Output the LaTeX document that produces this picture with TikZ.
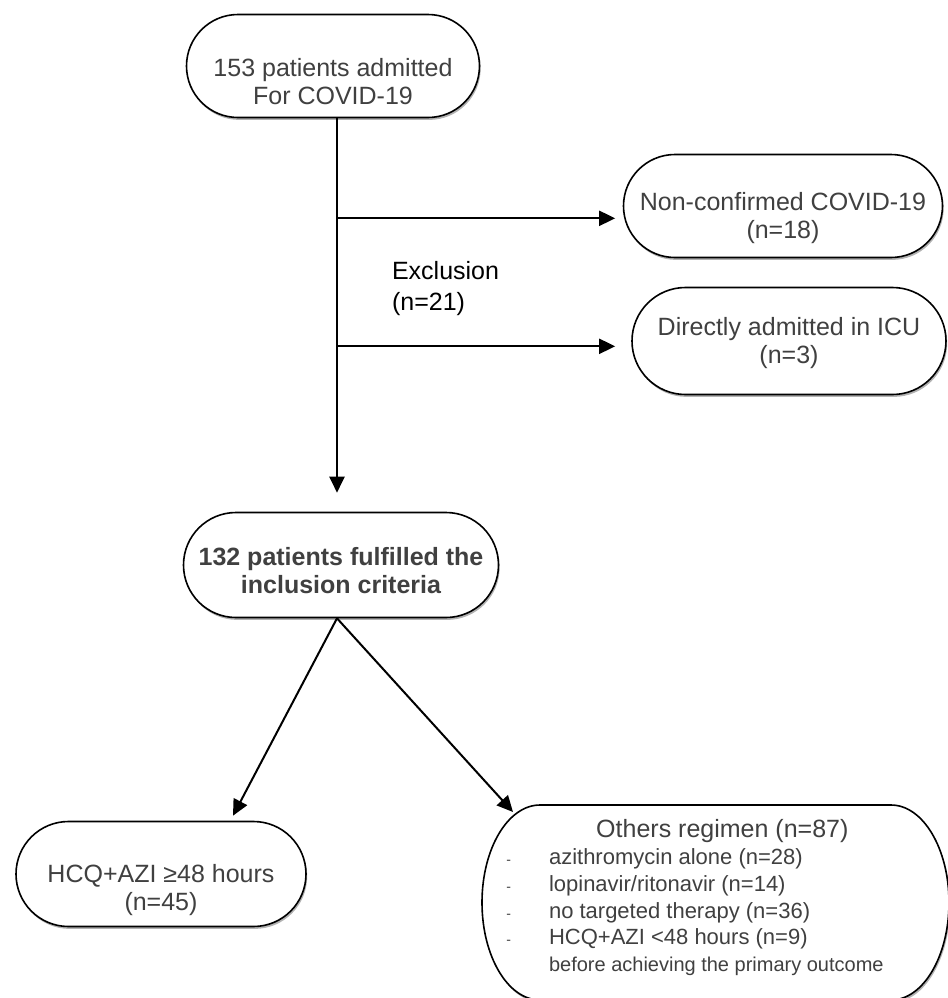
\documentclass[tikz,border=0pt]{standalone}
\usepackage{fontspec}
\setmainfont{Liberation Sans}
\usepackage{tikz}
\usetikzlibrary{arrows.meta, positioning, shapes.misc, shadows, calc}
\usepackage{xcolor}
\definecolor{mgray}{RGB}{64,64,64}
\newcommand{\listdash}{{\fontsize{7}{8}\selectfont -}}
\newcommand{\rowstrut}{\rule[-3.5pt]{0pt}{13pt}}

\begin{document}
\begin{tikzpicture}[x=0.5pt, y=-0.5pt,
  shade/.style={drop shadow={shadow xshift=0.6pt,shadow yshift=-1.2pt,
                             fill=black!30,opacity=1}},
  box/.style={rounded rectangle,draw,line width=0.8pt,fill=white,shade,
              align=center,text=mgray,font=\fontsize{12.5}{14}\selectfont,
              inner sep=2pt},
  outline/.style={draw,line width=0.8pt,fill=white,shade},
  tshift/.style={text height=#1,text depth=0pt},
  arr/.style={-{Triangle[length=8pt,width=7.5pt]},line width=1pt}
]
\useasboundingbox (0,0) rectangle (948,998);
\clip (0,0) rectangle (948,998);

% Admission
\node[box,tshift=38pt,minimum width=150.5pt,minimum height=51.5pt] (adm)
  at (333,66) {153 patients admitted\\For COVID-19};

% Exclusions
\node[box,tshift=32.5pt,minimum width=163.5pt,minimum height=51.5pt] (ncf)
  at (783,206) {Non-confirmed COVID-19\\(n=18)};
\node[box,tshift=22.5pt,minimum width=161pt,minimum height=53.5pt] (icu)
  at (789,341) {Directly admitted in ICU\\(n=3)};
\node[anchor=base west,align=left,font=\fontsize{12.5}{15.5}\selectfont] (exc)
  at (385,310) {Exclusion\\(n=21)};

% Inclusion
\node[box,tshift=28pt,font=\fontsize{12.5}{14}\selectfont\bfseries,
      minimum width=161.5pt,minimum height=52.5pt] (inc) at (341,565)
  {132 patients fulfilled the\\inclusion criteria};

% Groups
\node[box,tshift=36.5pt,minimum width=149pt,minimum height=52.5pt] (hcq)
  at (161,874) {HCQ+AZI ≥48 hours\\(n=45)};

\coordinate (othc) at (715,899);
\draw[outline] ($(othc)+(-175,-94)$)
  arc[start angle=270,end angle=90,x radius=58,y radius=97.5] -- ++(351,0)
  arc[start angle=90,end angle=-90,x radius=58,y radius=97.5] -- cycle;
\node[text=mgray,inner sep=0pt,font=\fontsize{11}{13}\selectfont] (oth) at (othc)
  {\begin{tabular}{@{}l@{\hspace{19pt}}l@{\hspace{20pt}}}
    \rowstrut & \multicolumn{1}{c@{\hspace{20pt}}}{\fontsize{12.5}{14}\selectfont
      Others regimen (n=87)}\\
    \rowstrut\listdash & azithromycin alone (n=28)\\
    \rowstrut\listdash & lopinavir/ritonavir (n=14)\\
    \rowstrut\listdash & no targeted therapy (n=36)\\
    \rowstrut\listdash & HCQ+AZI <48 hours (n=9)\\
    \rowstrut & {\fontsize{10}{12}\selectfont before achieving the primary outcome}
  \end{tabular}};

% Flow
\coordinate (br1) at ($(adm.south)+(4,100)$);
\coordinate (br2) at ($(adm.south)+(4,228)$);
\draw[arr,shorten >=9.5pt] (br1 |- adm.south) -- (br1 |- inc.north);
\draw[arr,shorten >=3.75pt] (br1) -- (br1 -| ncf.west);
\draw[arr,shorten >=8pt] (br2) -- (br2 -| icu.west);
\draw[arr] ([xshift=-2pt]inc.south) -- ([xshift=36pt,yshift=2.5pt]hcq.north);
\draw[arr] ([xshift=-2pt]inc.south) -- ([shift={(-202,-87)}]oth.center);
\end{tikzpicture}
\end{document}
